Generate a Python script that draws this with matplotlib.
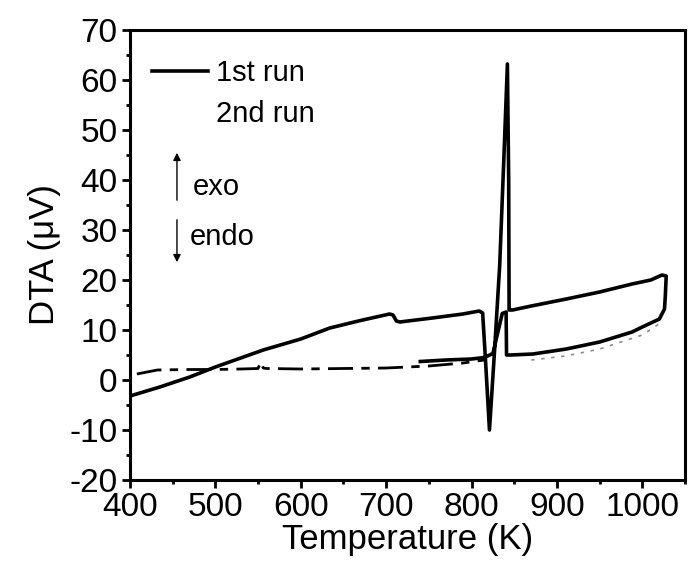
import matplotlib
matplotlib.use("Agg")
import matplotlib.pyplot as plt
from matplotlib.lines import Line2D
from matplotlib.ticker import MultipleLocator

plt.rcParams['font.family'] = ['Liberation Sans', 'DejaVu Sans']
plt.rcParams['axes.unicode_minus'] = False

# 1st run (solid): heating up to ~1028 K, then cooling on the lower branch
run1_T = [400, 435, 470, 500, 556, 600, 634, 670, 704, 708, 712, 716, 754, 790, 809, 813,
          816, 821, 827, 833, 838, 842, 843.5, 844, 848, 870, 911, 950, 988, 1010, 1023,
          1028, 1027, 1026, 1020, 1000, 988, 950, 911, 872, 846, 841, 840.5, 836, 825,
          815, 800, 770, 740]
run1_D = [-3.2, -1.4, 0.6, 2.6, 6.0, 8.2, 10.4, 11.9, 13.2, 13.0, 11.8, 11.6, 12.4, 13.2, 13.8, 13.4,
          5.0, -10.0, 6.0, 23.0, 45.0, 63.2, 40.0, 14.0, 14.0, 14.8, 16.2, 17.6, 19.2, 20.0, 21.0,
          20.8, 17.0, 14.2, 12.2, 10.6, 9.6, 7.6, 6.2, 5.2, 5.0, 5.0, 13.6, 13.3, 5.3,
          4.5, 4.2, 4.0, 3.7]

# 2nd run (dashed)
run2_T = [408, 432, 470, 500, 530, 550, 553, 556, 560, 600, 650, 700, 750, 790, 815]
run2_D = [1.2, 2.0, 2.1, 2.1, 2.2, 2.3, 3.6, 2.4, 2.3, 2.2, 2.3, 2.4, 2.8, 3.4, 4.0]

# faint continuation of the 2nd run
run2b_T = [870, 910, 950, 1000, 1022]
run2b_D = [4.0, 4.8, 6.2, 9.0, 11.5]

x_ticks = [400, 500, 600, 700, 800, 900, 1000]
y_ticks = [-20, -10, 0, 10, 20, 30, 40, 50, 60, 70]

fig = plt.figure(figsize=(6.88, 5.73), dpi=100)
ax = fig.add_axes([130/688, 1-480/573, 555/688, 450/573])

l1, = ax.plot(run1_T, run1_D, color='black', lw=2.6, solid_joinstyle='round', label='1st run')
ax.plot(run2_T, run2_D, color='black', lw=2.0, dashes=(9, 3, 3, 3))
ax.plot(run2b_T, run2b_D, color='0.55', lw=1.2, dashes=(2, 4))

ax.set_xlim(400, 1050)
ax.set_ylim(-20, 70)
ax.set_xticks(x_ticks)
ax.set_yticks(y_ticks)
ax.xaxis.set_minor_locator(MultipleLocator(50))
ax.yaxis.set_minor_locator(MultipleLocator(5))
ax.tick_params(which='major', direction='out', length=6, width=2.0, labelsize=24, pad=3)
ax.tick_params(which='minor', direction='out', length=3, width=2.0)
ax.tick_params(top=False, right=False, which='both')
for s in ax.spines.values():
    s.set_linewidth(2.2)

ax.set_xlabel('Temperature (K)', fontsize=25, labelpad=0)
ax.set_ylabel('DTA (\u03bcV)', fontsize=25, labelpad=6)

h2 = Line2D([], [], color='none')
ax.legend([l1, h2], ['1st run', '2nd run'], loc='upper left', bbox_to_anchor=(0.04, 0.935),
          frameon=False, fontsize=21, handlelength=1.9, handletextpad=0.3,
          labelspacing=0.45, borderpad=0, borderaxespad=0)

ax.annotate('', xy=(455, 46), xytext=(455, 35.4),
            arrowprops=dict(arrowstyle='-|>', color='black', lw=1.0, mutation_scale=11))
ax.annotate('', xy=(455, 23), xytext=(455, 32.6),
            arrowprops=dict(arrowstyle='-|>', color='black', lw=1.0, mutation_scale=11))
ax.text(474, 38.6, 'exo', fontsize=21, va='center', ha='left')
ax.text(470, 28.6, 'endo', fontsize=21, va='center', ha='left')

fig.savefig('out.png', dpi=100)
